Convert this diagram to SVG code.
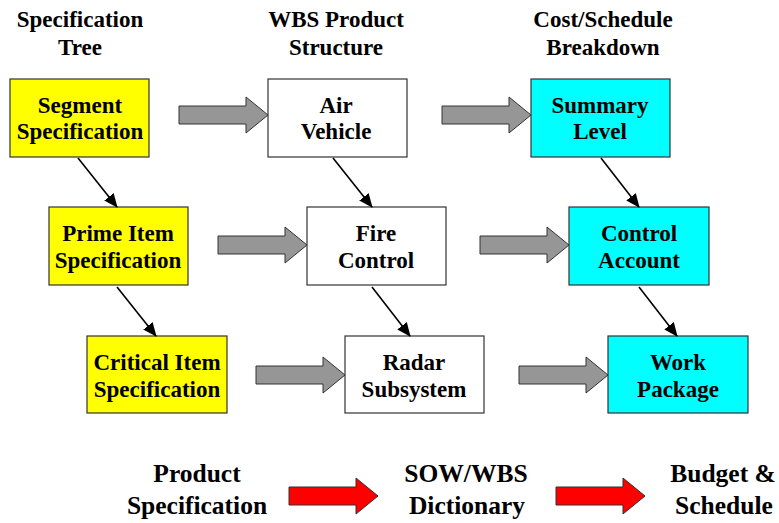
<svg xmlns="http://www.w3.org/2000/svg" xmlns:xlink="http://www.w3.org/1999/xlink" width="779" height="523" viewBox="0 0 779 523">
  <style>
    text { font-family: 'Liberation Serif', Tinos, 'Times New Roman', Times, 'DejaVu Serif', serif; font-weight: bold; fill: #000; text-anchor: middle; }
    .head { font-size: 23px; }
    .lbl { font-size: 23px; }
    .foot { font-size: 25.5px; }
    .box { stroke: #333; stroke-width: 1.2; }
    .spec { fill: #ffff00; }
    .wbs { fill: #ffffff; }
    .cost { fill: #00ffff; }
    .flow { fill: #969696; stroke: #333; stroke-width: 1; }
    .red { fill: #ff0000; stroke: #333; stroke-width: 1; }
    .link { stroke: #000; stroke-width: 1.6; fill: none; marker-end: url(#tip); }
  </style>
  <defs>
    <marker id="tip" markerUnits="userSpaceOnUse" markerWidth="14" markerHeight="14" viewBox="0 0 14 14" refX="13" refY="7" orient="auto">
      <path d="M0,1 L14,7 L0,13 Z" fill="#000"/>
    </marker>
    <path id="block" d="M0,-9 H67 V-18 L89,0 L67,18 V9 H0 Z"/>
  </defs>

  <!-- column headings -->
  <g id="headings">
    <text class="head" x="80" y="27">Specification</text>
    <text class="head" x="80" y="55">Tree</text>
    <text class="head" x="336" y="27">WBS Product</text>
    <text class="head" x="336" y="55">Structure</text>
    <text class="head" x="603" y="27">Cost/Schedule</text>
    <text class="head" x="603" y="55">Breakdown</text>
  </g>

  <!-- specification tree -->
  <g id="segment-spec">
    <rect class="box spec" x="10" y="79" width="139" height="78"/>
    <text class="lbl" x="80" y="113">Segment</text>
    <text class="lbl" x="80" y="139">Specification</text>
  </g>
  <g id="prime-item-spec">
    <rect class="box spec" x="49" y="207" width="139" height="78"/>
    <text class="lbl" x="118" y="241">Prime Item</text>
    <text class="lbl" x="118" y="268">Specification</text>
  </g>
  <g id="critical-item-spec">
    <rect class="box spec" x="87" y="336" width="140" height="77"/>
    <text class="lbl" x="157" y="370">Critical Item</text>
    <text class="lbl" x="157" y="397">Specification</text>
  </g>

  <!-- WBS product structure -->
  <g id="air-vehicle">
    <rect class="box wbs" x="268" y="79" width="139" height="78"/>
    <text class="lbl" x="336" y="113">Air</text>
    <text class="lbl" x="336" y="139">Vehicle</text>
  </g>
  <g id="fire-control">
    <rect class="box wbs" x="307" y="207" width="139" height="78"/>
    <text class="lbl" x="376" y="241">Fire</text>
    <text class="lbl" x="376" y="268">Control</text>
  </g>
  <g id="radar-subsystem">
    <rect class="box wbs" x="345" y="336" width="139" height="77"/>
    <text class="lbl" x="414" y="370">Radar</text>
    <text class="lbl" x="414" y="397">Subsystem</text>
  </g>

  <!-- cost/schedule breakdown -->
  <g id="summary-level">
    <rect class="box cost" x="531" y="79" width="139" height="78"/>
    <text class="lbl" x="600" y="113">Summary</text>
    <text class="lbl" x="600" y="139">Level</text>
  </g>
  <g id="control-account">
    <rect class="box cost" x="569" y="207" width="140" height="78"/>
    <text class="lbl" x="639" y="241">Control</text>
    <text class="lbl" x="639" y="268">Account</text>
  </g>
  <g id="work-package">
    <rect class="box cost" x="608" y="336" width="140" height="77"/>
    <text class="lbl" x="678" y="370">Work</text>
    <text class="lbl" x="678" y="397">Package</text>
  </g>

  <!-- connectors -->
  <g id="connectors">
    <line class="link" x1="78" y1="158" x2="117" y2="207"/>
    <line class="link" x1="117" y1="287" x2="156" y2="336"/>
    <line class="link" x1="333" y1="158" x2="372" y2="207"/>
    <line class="link" x1="372" y1="287" x2="410" y2="336"/>
    <line class="link" x1="601" y1="158" x2="639" y2="207"/>
    <line class="link" x1="639" y1="287" x2="677" y2="336"/>

    <use xlink:href="#block" class="flow" transform="translate(179,115)"/>
    <use xlink:href="#block" class="flow" transform="translate(442,115)"/>
    <use xlink:href="#block" class="flow" transform="translate(218,245)"/>
    <use xlink:href="#block" class="flow" transform="translate(480,245)"/>
    <use xlink:href="#block" class="flow" transform="translate(256,375)"/>
    <use xlink:href="#block" class="flow" transform="translate(519,375)"/>

    <use xlink:href="#block" class="red" transform="translate(289,496)"/>
    <use xlink:href="#block" class="red" transform="translate(556,496)"/>
  </g>

  <!-- document flow -->
  <g id="product-specification">
    <text class="foot" x="197" y="482">Product</text>
    <text class="foot" x="197" y="514">Specification</text>
  </g>
  <g id="sow-wbs-dictionary">
    <text class="foot" x="466" y="482">SOW/WBS</text>
    <text class="foot" x="467" y="514">Dictionary</text>
  </g>
  <g id="budget-schedule">
    <text class="foot" x="723" y="482">Budget &amp;</text>
    <text class="foot" x="724" y="514">Schedule</text>
  </g>
</svg>
